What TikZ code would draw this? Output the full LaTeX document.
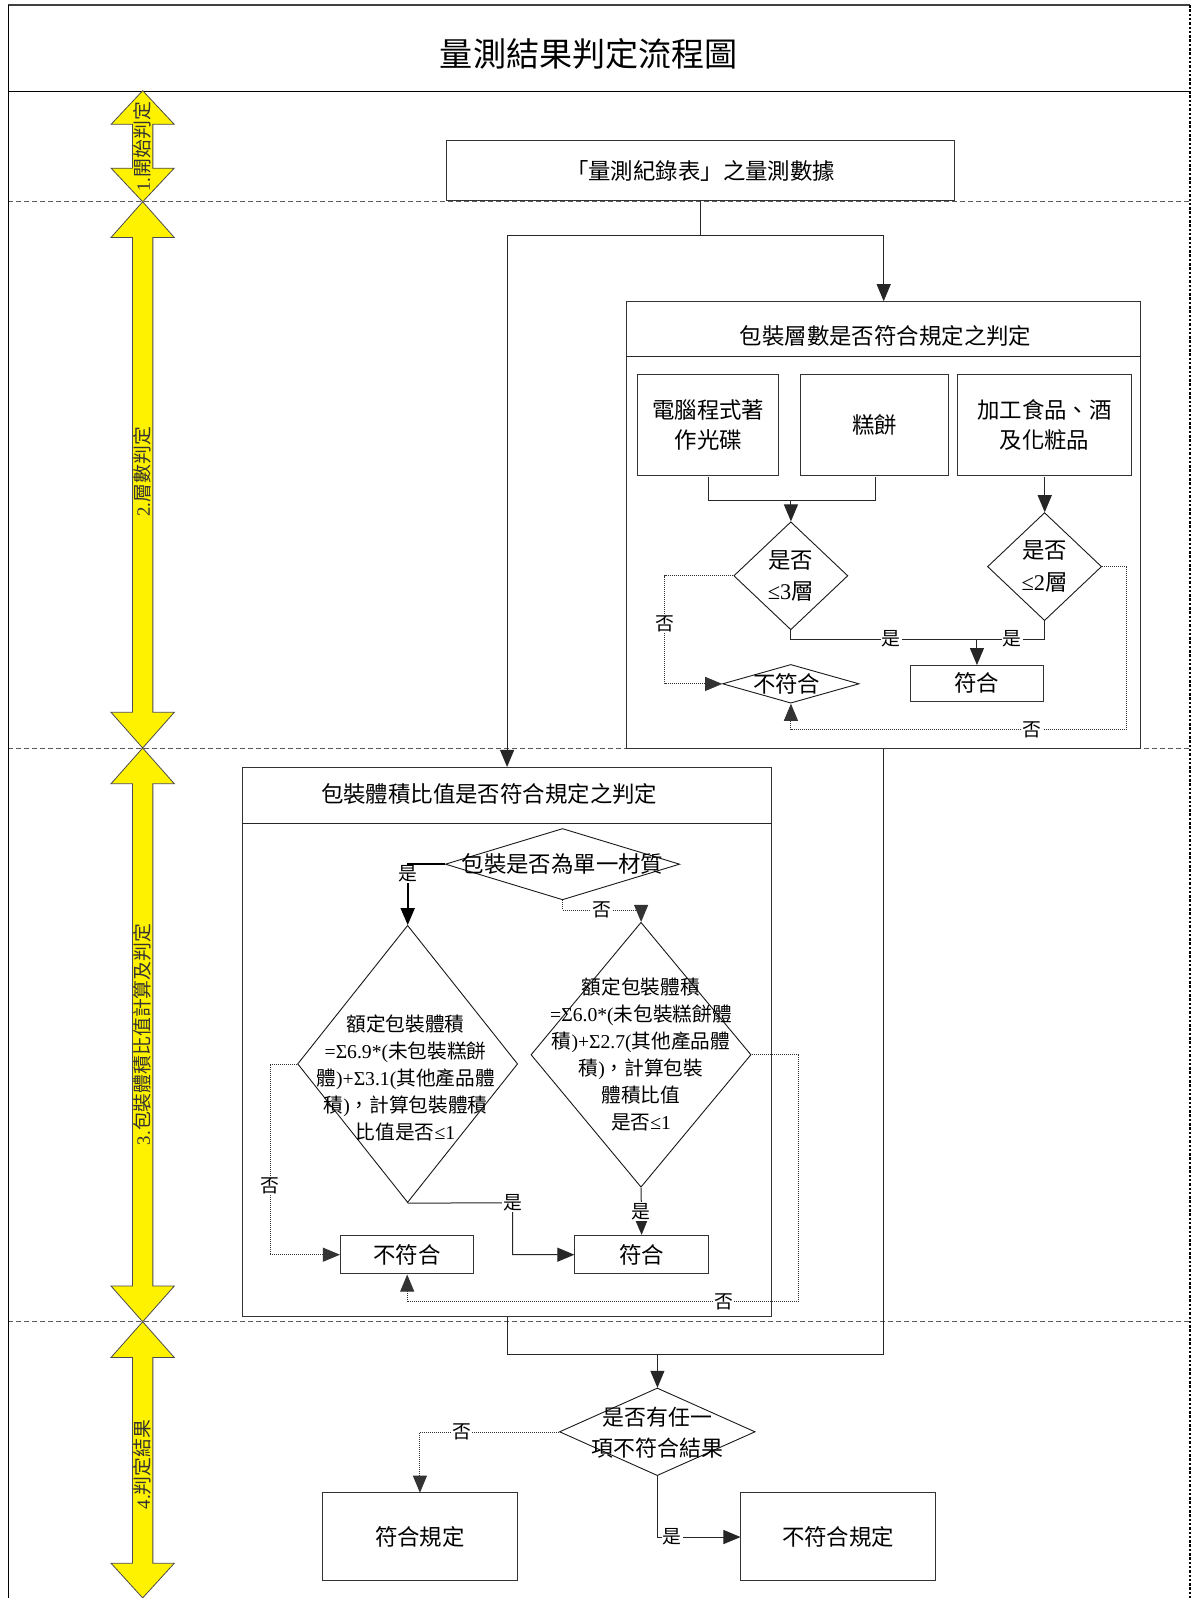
\documentclass[tikz,border=0pt]{standalone}
\usepackage{fontspec}
\setmainfont{Liberation Serif}
\newfontfamily\cjk{Noto Sans CJK TC}
\newfontfamily\latf{Liberation Serif}
\usetikzlibrary{shapes.geometric,arrows.meta}
\tikzset{
  ln/.style={draw=black!85, line width=1pt},
  dotln/.style={draw=black!80, line width=0.9pt, dash pattern=on 1pt off 1pt},
  box/.style={draw=black!80, line width=1pt, rectangle, inner sep=0pt, align=center, font=\cjk\fontsize{22}{30}\selectfont},
  dia/.style={draw=black!90, line width=0.9pt, diamond, inner sep=0pt},
  txt/.style={inner sep=0pt, align=center, font=\cjk\fontsize{22}{31}\selectfont},
  smalltxt/.style={inner sep=0pt, align=center, font=\cjk\fontsize{19.3}{26.5}\selectfont},
  lab/.style={fill=white, inner sep=1pt, font=\cjk\fontsize{18.5}{20}\selectfont},
  arr/.style={-{Triangle[length=17pt,width=14pt]}},
  yel/.style={fill=yellow, draw=black!70, line width=0.8pt},
  ylab/.style={rotate=90, inner sep=0pt, font=\cjk\fontsize{18.5}{20}\selectfont, text=black!80},
  sep/.style={draw=black!65, line width=1pt, dash pattern=on 5pt off 3pt},
}
\begin{document}
\begin{tikzpicture}[x=1pt,y=-1pt,scale=1.0191,every node/.append style={transform shape}]
\useasboundingbox (0,0) rectangle (1169.7,1568.1);
\fill[white] (0,0) rectangle (1169.7,1568.1);

% lane separators
\draw[sep] (8,198) -- (1168,198);
\draw[sep] (8,734) -- (1168,734);
\draw[sep] (8,1297) -- (1168,1297);

% outer frame
\draw[draw=black!75, line width=1.2pt] (8,5) -- (1168,5);
\draw[draw=black, line width=1pt] (8,5) -- (8,1568.1);
\draw[draw=black, line width=1pt] (8,90) -- (1168,90);
\draw[draw=black, line width=1.6pt, dash pattern=on 2.5pt off 1.8pt] (1168,5) -- (1168,1568.1);

\node[txt, font=\cjk\fontsize{32.5}{36}\selectfont] (title) at (578,53) {量測結果判定流程圖};

% yellow lane arrows
\draw[yel] (140,89) -- (171,122) -- (150,122) -- (150,165) -- (171,165) -- (140,198) -- (109,165) -- (130,165) -- (130,122) -- (109,122) -- cycle;
\draw[yel] (140,198) -- (171,233) -- (150,233) -- (150,699) -- (171,699) -- (140,734) -- (109,699) -- (130,699) -- (130,233) -- (109,233) -- cycle;
\draw[yel] (140,734) -- (171,769) -- (150,769) -- (150,1262) -- (171,1262) -- (140,1297) -- (109,1262) -- (130,1262) -- (130,769) -- (109,769) -- cycle;
\draw[yel] (140,1297) -- (171,1332) -- (150,1332) -- (150,1534) -- (171,1534) -- (140,1568) -- (109,1534) -- (130,1534) -- (130,1332) -- (109,1332) -- cycle;
\node[ylab] (y1) at (140,144) {{\latf 1.}開始判定};
\node[ylab] (y2) at (140,463) {{\latf 2.}層數判定};
\node[ylab] (y3) at (140,1015) {{\latf 3.}包裝體積比值計算及判定};
\node[ylab] (y4) at (140,1437) {{\latf 4.}判定結果};

% start
\node[box, minimum width=499, minimum height=59] (S) at (687.5,167.5) {「量測紀錄表」之量測數據};

% group boxes
\node[box, minimum width=504, minimum height=438] (B2) at (867,515) {};
\draw[ln] ([yshift=-54pt]B2.north west) -- ([yshift=-54pt]B2.north east);
\node[txt] (B2t) at (869,330) {包裝層數是否符合規定之判定};

\node[box, minimum width=519, minimum height=539] (B3) at (497.5,1022.5) {};
\draw[ln] ([yshift=-55pt]B3.north west) -- ([yshift=-55pt]B3.north east);
\node[txt] (B3t) at (480,779) {包裝體積比值是否符合規定之判定};

\coordinate (sp) at (687.5,231);
\draw[ln] (S.south) -- (sp);
\draw[ln,arr] (sp) -| (B2.north);
\draw[ln,arr] (sp) -| (B3.north);

% ---- layer count ----
\node[box, minimum width=138, minimum height=100] (A1) at (695,417) {電腦程式著\\作光碟};
\node[box, minimum width=145, minimum height=100] (A2) at (858.5,417) {糕餅};
\node[box, minimum width=170, minimum height=100] (A3) at (1025,417) {加工食品、酒\\及化粧品};

\node[dia, minimum width=112, minimum height=106] (D1) at (776,565) {};
\node[txt] (D1t) at (776,565) {是否\\{\latf ≤3}層};
\node[dia, minimum width=112, minimum height=106] (D2) at (1025,556) {};
\node[txt] (D2t) at (1025,556) {是否\\{\latf ≤2}層};

\node[box, minimum width=131, minimum height=35] (OK1) at (958.5,670.5) {符合};
\node[dia, minimum width=134, minimum height=38] (F1) at (776,671) {};
\node[txt] (F1t) at (772,671) {不符合};

\coordinate (j1) at (776,491);
\draw[ln] (A1.south) |- (A2.south |- j1) -- (A2.south);
\draw[ln,arr] (j1) -- (D1.north);
\draw[ln,arr] (A3.south) -- (D2.north);

\coordinate (m1) at (958.5,627);
\draw[ln] (D1.south) |- node[lab,pos=0.77]{是} (m1);
\draw[ln] (D2.south) |- node[lab,pos=0.74]{是} (m1);
\draw[ln,arr] (m1) -- (OK1.north);

\coordinate (n1) at (652,671);
\draw[dotln,arr] (D1.west) -| node[lab,pos=0.72]{否} (n1) -- (F1.west);
\coordinate (n2) at (1105,716);
\draw[dotln,arr] (D2.east) -| (n2) -| node[lab,pos=0.14]{否} (F1.south);

% ---- volume ratio ----
\node[dia, minimum width=230, minimum height=70] (Q) at (552,848) {};
\node[txt] (Qt) at (552,848) {包裝是否為單一材質};

\node[dia, minimum width=216, minimum height=272] (E1) at (400,1044) {};
\node[smalltxt] (E1t) at (398,1058) {額定包裝體積\\{\latf =Σ6.9*(}未包裝糕餅\\體{\latf )+Σ3.1(}其他產品體\\積{\latf )}，計算包裝體積\\比值是否{\latf ≤1}};
\node[dia, minimum width=216, minimum height=260] (E2) at (629,1035) {};
\node[smalltxt] (E2t) at (629,1035) {額定包裝體積\\{\latf =Σ6.0*(}未包裝糕餅體\\積{\latf )+Σ2.7(}其他產品體\\積{\latf )}，計算包裝\\體積比值\\是否{\latf ≤1}};

\node[box, minimum width=131, minimum height=38] (NO2) at (399.5,1231) {不符合};
\node[box, minimum width=131, minimum height=38] (OK2) at (629.5,1231) {符合};

\draw[draw=black, line width=2pt, arr] (Q.west) -| node[lab,pos=0.58]{是} (E1.north);
\coordinate (n3) at (552,893);
\draw[dotln,arr] (Q.south) -- (n3) -| node[lab,pos=0.25]{否} (E2.north);

\coordinate (n4) at (503,1180);
\draw[ln,arr] (E1.south) -- (n4) node[lab]{是} |- (OK2.west);
\draw[ln,arr] (E2.south) -- node[lab]{是} (OK2.north);

\coordinate (n5) at (265,1231);
\draw[dotln,arr] (E1.west) -| node[lab,pos=0.82]{否} (n5) -- (NO2.west);
\coordinate (n6) at (783,1277);
\draw[dotln,arr] (E2.east) -| (n6) -| node[lab,pos=0.095]{否} (NO2.south);

% ---- final result ----
\node[dia, minimum width=192, minimum height=86] (Z) at (645,1405) {};
\node[txt, font=\cjk\fontsize{21.5}{31}\selectfont] (Zt) at (645,1406) {是否有任一\\項不符合結果};
\node[box, minimum width=192, minimum height=86] (R1) at (412,1508) {符合規定};
\node[box, minimum width=191, minimum height=86] (R2) at (822.5,1508) {不符合規定};

\coordinate (j3) at (645,1329);
\draw[ln] (B3.south) |- (j3) -| (B2.south);
\draw[ln,arr] (j3) -- (Z.north);
\draw[dotln,arr] (Z.west) -| node[lab,pos=0.35]{否} (R1.north);
\draw[ln,arr] (Z.south) |- node[lab,pos=0.59]{是} (R2.west);
\end{tikzpicture}
\end{document}
